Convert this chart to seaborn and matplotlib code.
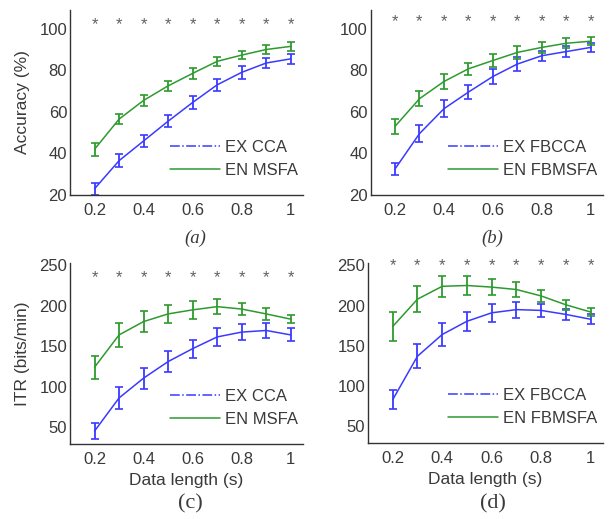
import numpy as np
import pandas as pd
import matplotlib
matplotlib.use("Agg")
import matplotlib.pyplot as plt
from matplotlib.lines import Line2D
import seaborn as sns

# ---------------- data ----------------
lengths = [0.2, 0.3, 0.4, 0.5, 0.6, 0.7, 0.8, 0.9, 1.0]
xtick_vals = [0.2, 0.4, 0.6, 0.8, 1.0]
xtick_labels = ["0.2", "0.4", "0.6", "0.8", "1"]

acc_cca = [23, 36.5, 46, 55.5, 64.5, 73, 79, 83.5, 85.5]
acc_cca_err = [3, 3, 3, 3, 3, 3, 3, 2.5, 2.5]
acc_msfa = [42, 56.5, 65.5, 72.5, 78.5, 84.3, 87.3, 90, 91.5]
acc_msfa_err = [3, 2.5, 2.5, 2.5, 2.5, 2, 2, 2, 2]

acc_fbcca = [32.5, 49.5, 61.5, 69.5, 77, 83, 87, 89, 91]
acc_fbcca_err = [3, 4, 4, 3.5, 3.5, 3.5, 2.5, 2.5, 2]
acc_fbmsfa = [53, 66.3, 74.6, 80.7, 84.7, 88.6, 91, 93, 94]
acc_fbmsfa_err = [3.5, 3.5, 3.5, 3, 3, 3, 2.5, 2.5, 2]

itr_cca = [45, 86, 110.5, 131, 147, 161.5, 167.5, 169.5, 164]
itr_cca_err = [10, 13.5, 13, 13, 11, 11, 10, 9, 8]
itr_msfa = [124, 164, 180.5, 190, 195, 199, 196, 190, 183.5]
itr_msfa_err = [14, 15, 13, 11, 11, 9, 7, 7, 5]

itr_fbcca = [83, 137, 164, 180.5, 191, 195, 194, 189, 183]
itr_fbcca_err = [12, 15, 14, 12, 11, 10, 8, 7, 6]
itr_fbmsfa = [174, 208, 224, 225, 223, 220, 212, 201, 192]
itr_fbmsfa_err = [18, 16, 13, 12, 10, 9, 7, 6, 5]

star_acc_a = 102
star_acc_b = 103.5
star_itr_c = 235
star_itr_d = 250

names_acc = [("EX CCA", "EN MSFA"), ("EX FBCCA", "EN FBMSFA")]

BLUE = "#3a3aff"
GREEN = "#2e9a2e"
TXT = "#3a3a3a"

sns.set_theme(style="white")
plt.rcParams["font.family"] = ["Liberation Sans", "DejaVu Sans"]
plt.rcParams["text.color"] = TXT
plt.rcParams["axes.labelcolor"] = TXT
plt.rcParams["xtick.color"] = TXT
plt.rcParams["ytick.color"] = TXT

fig = plt.figure(figsize=(6.13, 5.19), dpi=100)

W, H = 613, 519
def add_ax(l, r, t, b):
    return fig.add_axes([l / W, 1 - b / H, (r - l) / W, (b - t) / H])

ax_a = add_ax(70, 303, 10, 195)
ax_b = add_ax(370.5, 603, 10, 195)
ax_c = add_ax(70, 303, 263, 444)
ax_d = add_ax(368, 603, 263, 443)

def panel(ax, b_vals, b_err, g_vals, g_err, star_y, ylim, yticks, labels):
    df = pd.DataFrame({
        "x": lengths * 2,
        "y": list(b_vals) + list(g_vals),
        "m": [labels[0]] * len(lengths) + [labels[1]] * len(lengths),
    })
    sns.lineplot(data=df, x="x", y="y", hue="m", palette=[BLUE, GREEN],
                 ax=ax, legend=False, linewidth=1.1)
    ax.errorbar(lengths, b_vals, yerr=b_err, fmt="none", ecolor=BLUE,
                elinewidth=1.3, capsize=3.2, capthick=1.2)
    ax.errorbar(lengths, g_vals, yerr=g_err, fmt="none", ecolor=GREEN,
                elinewidth=1.3, capsize=3.2, capthick=1.2)
    for xv in lengths:
        ax.text(xv, star_y, "*", ha="center", va="center", fontsize=12,
                color="#606060")
    ax.set_xlim(0.1, 1.05)
    ax.set_ylim(*ylim)
    ax.set_xticks(xtick_vals)
    ax.set_xticklabels(xtick_labels)
    ax.set_yticks(yticks)
    ax.tick_params(axis="both", length=0, labelsize=12)
    ax.tick_params(axis="y", pad=2)
    ax.tick_params(axis="x", pad=6)
    for s in ["top", "right"]:
        ax.spines[s].set_visible(False)
    for s in ["left", "bottom"]:
        ax.spines[s].set_color("#333333")
        ax.spines[s].set_linewidth(1.0)
    ax.set_xlabel("")
    ax.set_ylabel("")
    handles = [Line2D([], [], color=BLUE, linestyle="-.", linewidth=1.1),
               Line2D([], [], color=GREEN, linestyle="-", linewidth=1.1)]
    ax.legend(handles, labels, loc="lower right", bbox_to_anchor=(1.02, 0.04),
              frameon=False, fontsize=12, handlelength=3.0, handletextpad=0.3,
              labelspacing=0.45, borderaxespad=0.2, labelcolor=TXT)

panel(ax_a, acc_cca, acc_cca_err, acc_msfa, acc_msfa_err, star_acc_a,
      (20, 109), [20, 40, 60, 80, 100], names_acc[0])
panel(ax_b, acc_fbcca, acc_fbcca_err, acc_fbmsfa, acc_fbmsfa_err, star_acc_b,
      (20, 109), [20, 40, 60, 80, 100], names_acc[1])
panel(ax_c, itr_cca, itr_cca_err, itr_msfa, itr_msfa_err, star_itr_c,
      (29, 253), [50, 100, 150, 200, 250], names_acc[0])
panel(ax_d, itr_fbcca, itr_fbcca_err, itr_fbmsfa, itr_fbmsfa_err, star_itr_d,
      (29, 253), [50, 100, 150, 200, 250], names_acc[1])

ax_a.set_ylabel("Accuracy (%)", fontsize=12.5, labelpad=7)
ax_c.set_ylabel("ITR (bits/min)", fontsize=12.5, labelpad=7)
ax_c.set_xlabel("Data length (s)", fontsize=12.5, labelpad=4)
ax_d.set_xlabel("Data length (s)", fontsize=12.5, labelpad=4)

serif = ["Liberation Serif", "DejaVu Serif"]
fig.text(195 / W, 1 - 238 / H, "(a)", ha="center", va="center", fontsize=13.5,
         style="italic", family=serif)
fig.text(492 / W, 1 - 238 / H, "(b)", ha="center", va="center", fontsize=13.5,
         style="italic", family=serif)
fig.text(190 / W, 1 - 504 / H, "(c)", ha="center", va="center", fontsize=16,
         family=serif)
fig.text(493 / W, 1 - 504 / H, "(d)", ha="center", va="center", fontsize=16,
         family=serif)

fig.savefig("out.png", dpi=100)
